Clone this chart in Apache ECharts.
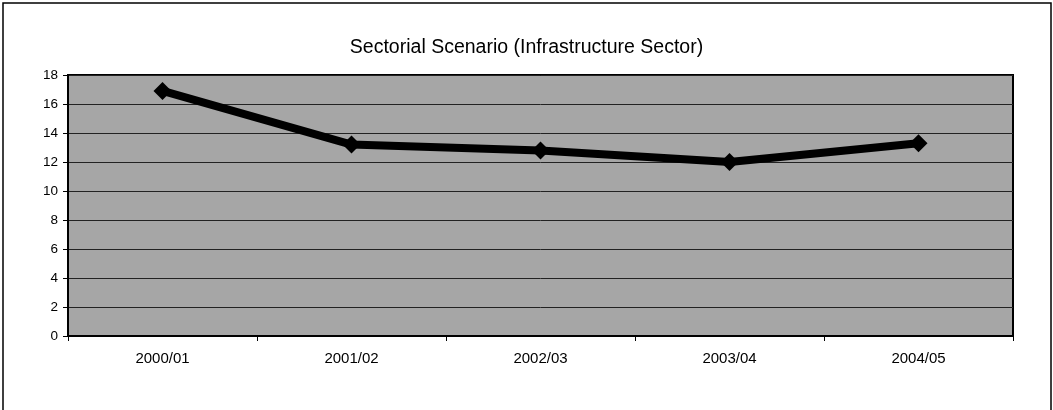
<!DOCTYPE html>
<html>
<head>
<meta charset="utf-8">
<script src="https://cdn.jsdelivr.net/npm/echarts@6/dist/echarts.min.js"></script>
<style>
  html, body { margin: 0; padding: 0; background: #fff; }
  #chart { width: 1053px; height: 410px; }
</style>
</head>
<body>
<div id="chart"></div>
<script>
  // data
  var categories = ['2000/01', '2001/02', '2002/03', '2003/04', '2004/05'];
  var values = [16.9, 13.2, 12.8, 12.0, 13.3];
  var yTicks = [0, 2, 4, 6, 8, 10, 12, 14, 16, 18];

  var chart = echarts.init(document.getElementById('chart'));

  chart.setOption({
    animation: false,
    backgroundColor: '#fff',
    textStyle: { fontFamily: 'Liberation Sans, Arial, sans-serif', color: '#000' },
    title: {
      text: 'Sectorial Scenario (Infrastructure Sector)',
      left: 'center',
      top: 33,
      textStyle: { fontSize: 19.5, fontWeight: 'normal', color: '#000', fontFamily: 'Liberation Sans, Arial, sans-serif' }
    },
    // outer frame of the scanned chart
    graphic: [{
      type: 'rect',
      shape: { x: 3, y: 3, width: 1048, height: 410 },
      style: { fill: 'none', stroke: '#000', lineWidth: 1.5 },
      silent: true,
      z: -1
    }],
    grid: {
      left: 68,
      right: 40,
      top: 75,
      bottom: 74,
      show: true,
      backgroundColor: '#a6a6a6',
      borderColor: '#000',
      borderWidth: 2
    },
    xAxis: {
      type: 'category',
      data: categories,
      boundaryGap: true,
      axisLine: { lineStyle: { color: '#000', width: 2 } },
      axisTick: { show: true, length: 5, lineStyle: { color: '#000' } },
      axisLabel: { fontSize: 15, color: '#000', margin: 15 }
    },
    yAxis: {
      type: 'value',
      min: yTicks[0],
      max: yTicks[yTicks.length - 1],
      interval: 2,
      axisLine: { show: true, lineStyle: { color: '#000', width: 2 } },
      axisTick: { show: true, length: 5, lineStyle: { color: '#000' } },
      axisLabel: { fontSize: 13.5, color: '#000', margin: 10 },
      splitLine: { show: true, lineStyle: { color: '#222', width: 1 } }
    },
    series: [{
      type: 'line',
      data: values,
      lineStyle: { color: '#000', width: 8 },
      itemStyle: { color: '#000' },
      symbol: 'diamond',
      symbolSize: 18
    }]
  });
</script>
</body>
</html>
